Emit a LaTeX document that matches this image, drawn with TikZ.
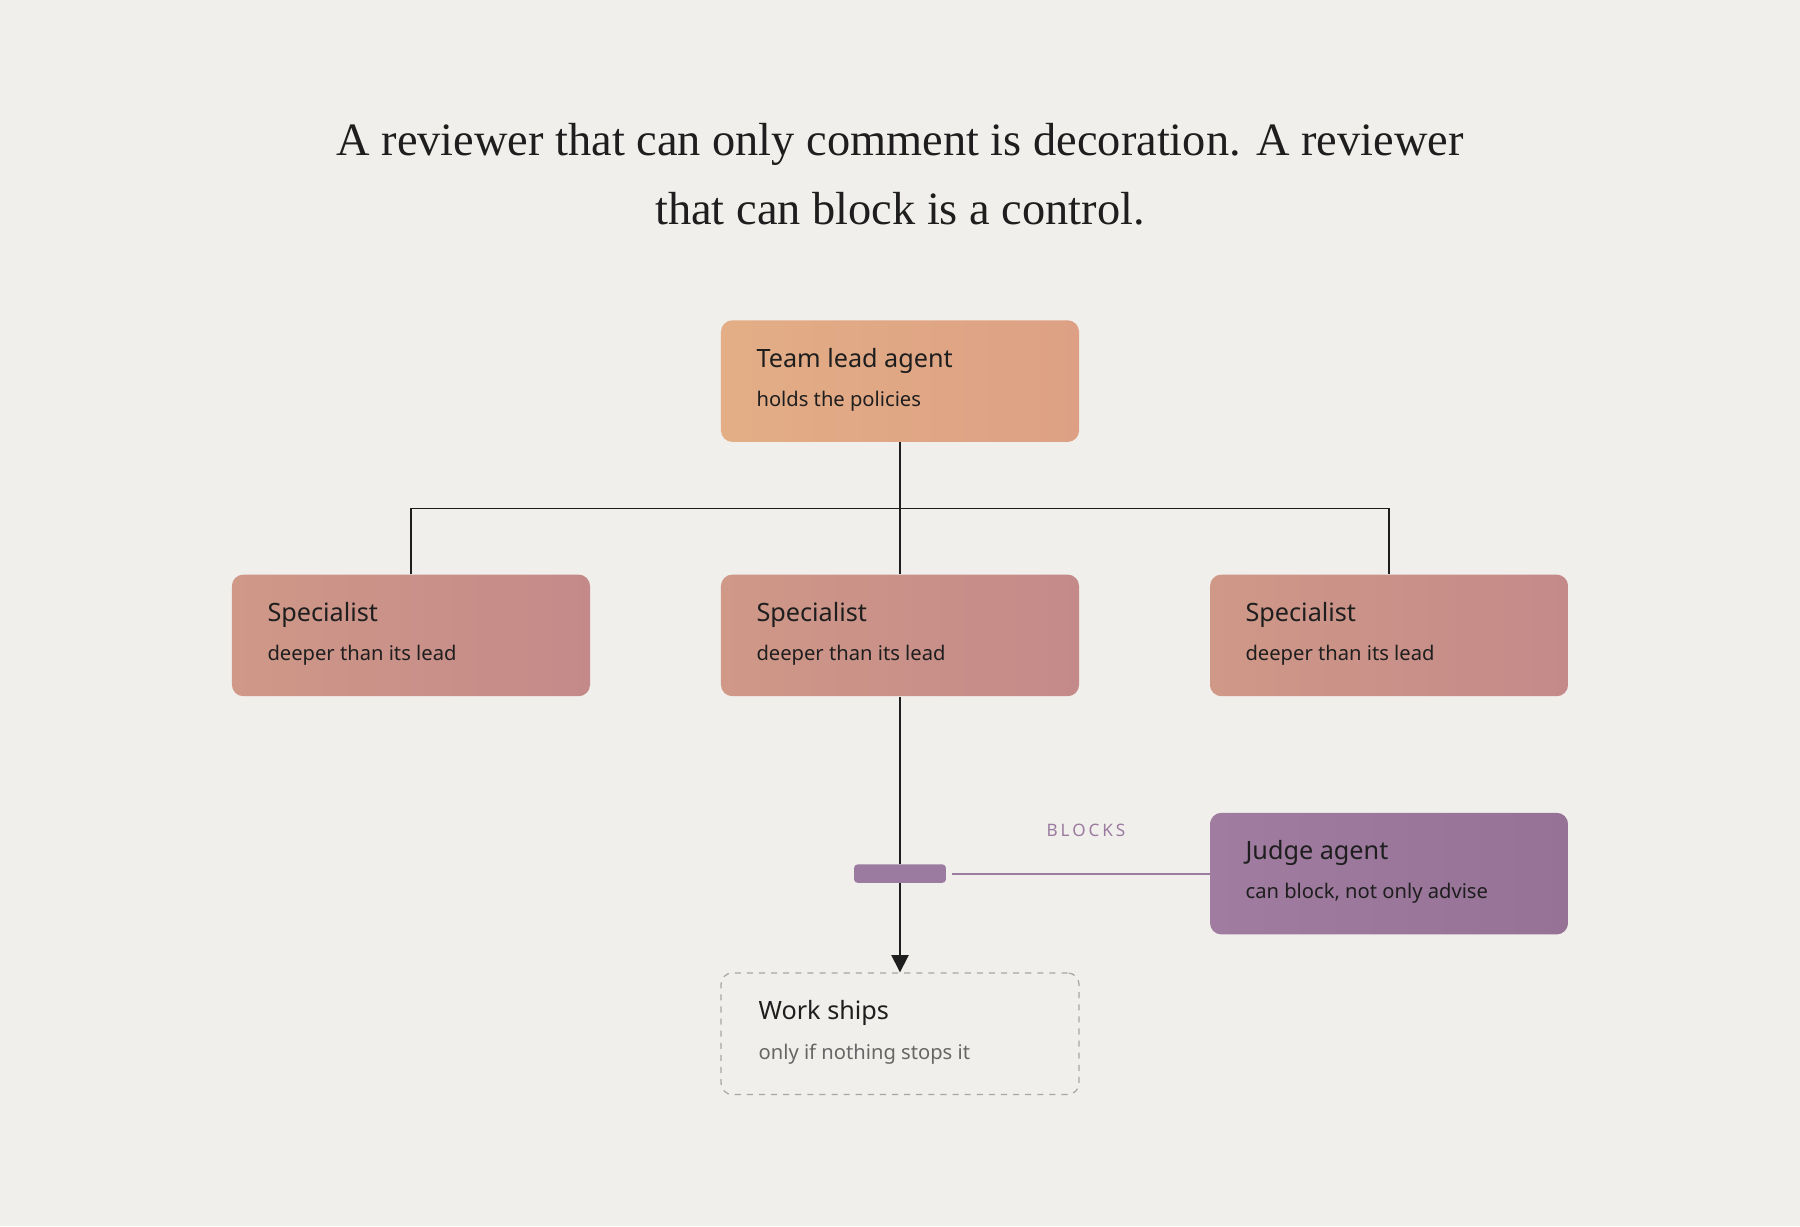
\documentclass[tikz,border=0pt]{standalone}
\usepackage{fontspec}
\setmainfont{Noto Sans}
\newfontfamily\titlefont{Liberation Serif}
\usetikzlibrary{positioning,arrows.meta}
\definecolor{paper}{HTML}{F1EFEB}
\definecolor{ink}{HTML}{1E1E1E}
\definecolor{plum}{HTML}{9B7BA0}
\tikzset{
  card/.style={rectangle, rounded corners=0.2cm, minimum width=6.24cm, minimum height=2.12cm, draw=none, inner sep=0pt},
  lead/.style={card, left color=leadA, right color=leadB},
  spec/.style={card, left color=specA, right color=specB},
  judge/.style={card, left color=judgeA, right color=judgeB},
  ship/.style={card, draw=black!35, dashed, line width=0.6pt, fill=paper},
  head/.style={anchor=base west, font=\fontsize{12.5}{14}\selectfont\bfseries, text=ink, inner sep=0pt},
  sub/.style={anchor=base west, font=\fontsize{10}{12}\selectfont, text=ink, inner sep=0pt},
  wire/.style={draw=ink, line width=0.8pt}
}
\definecolor{leadA}{HTML}{E3AE86}
\definecolor{leadB}{HTML}{DDA084}
\definecolor{specA}{HTML}{CF9887}
\definecolor{specB}{HTML}{C48A8A}
\definecolor{judgeA}{HTML}{A07CA0}
\definecolor{judgeB}{HTML}{957296}
\begin{document}
\begin{tikzpicture}[x=0.02cm,y=-0.02cm]
\fill[paper] (0,0) rectangle (1568,1068);
\useasboundingbox (0,0) rectangle (1568,1068);
% title
\node[font=\titlefont\fontsize{23}{34}\selectfont, text=ink, align=center] (title) at (784,152)
  {A reviewer that can only comment is decoration. A reviewer\\that can block is a control.};
% cards
\node[lead] (lead) at (784,332) {};
\node[spec] (specL) at (358,553.5) {};
\node[spec] (specM) at (784,553.5) {};
\node[spec] (specR) at (1210,553.5) {};
\node[judge] (judge) at (1210,761) {};
\node[ship] (ship) at (784,900.5) {};
\node[head] at ([xshift=0.62cm,yshift=0.24cm]lead.west) {Team lead agent};
\node[sub] at ([xshift=0.62cm,yshift=-0.44cm]lead.west) {holds the policies};
\foreach \s in {specL,specM,specR}{
  \node[head] at ([xshift=0.62cm,yshift=0.24cm]\s.west) {Specialist};
  \node[sub] at ([xshift=0.62cm,yshift=-0.44cm]\s.west) {deeper than its lead};
}
\node[head] at ([xshift=0.62cm,yshift=0.24cm]judge.west) {Judge agent};
\node[sub] at ([xshift=0.62cm,yshift=-0.44cm]judge.west) {can block, not only advise};
\node[head] at ([xshift=0.66cm,yshift=0.24cm]ship.west) {Work ships};
\node[sub, text=black!60] at ([xshift=0.66cm,yshift=-0.44cm]ship.west) {only if nothing stops it};
% tree
\coordinate (bus) at (784,443);
\draw[wire] (lead.south) -- (specM.north);
\draw[wire] (specL.north) |- (bus) -| (specR.north);
% gate
\node[rectangle, rounded corners=0.06cm, fill=plum, minimum width=1.6cm, minimum height=0.32cm, inner sep=0pt] (gate) at (784,761) {};
\draw[wire] (specM.south) -- (gate.north);
\draw[wire, -{Triangle[length=0.3cm,width=0.3cm]}] (gate.south) -- (ship.north);
\coordinate (gateR) at (829,761);
\draw[plum, line width=1pt] (gateR) -- (judge.west);
\node[text=plum, font=\fontsize{8.5}{10}\selectfont\bfseries] (blocks) at (946,723) {B\,L\,O\,C\,K\,S};
\end{tikzpicture}
\end{document}
